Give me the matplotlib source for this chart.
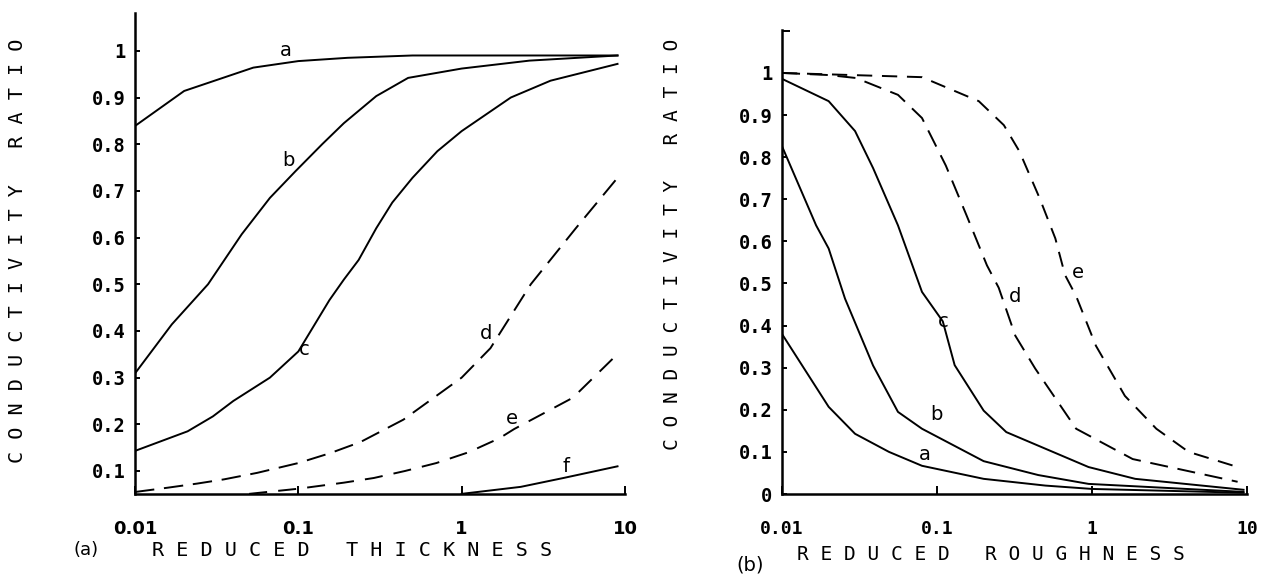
"""
Conductivity ratio of thin films versus reduced thickness (a)
and reduced roughness (b), drawn in an old plotter style.
"""

import matplotlib
matplotlib.use("Agg")
import matplotlib.pyplot as plt
from matplotlib.ticker import FixedLocator, NullLocator

# ---- panel (a): conductivity ratio vs reduced thickness ----
thk_a_x = [0.01, 0.02, 0.053, 0.1, 0.2, 0.5, 1, 3, 9]
thk_a_y = [0.839, 0.914, 0.964, 0.978, 0.985, 0.99, 0.99, 0.99, 0.99]

thk_b_x = [0.01, 0.0168, 0.028, 0.045, 0.067, 0.096, 0.14, 0.19, 0.3, 0.47, 1.0, 2.6, 9]
thk_b_y = [0.309, 0.414, 0.5, 0.607, 0.685, 0.742, 0.8, 0.845, 0.903, 0.942, 0.962, 0.979, 0.99]

thk_c_x = [0.01, 0.021, 0.03, 0.04, 0.067, 0.1, 0.155, 0.19, 0.234, 0.3, 0.376,
           0.5, 0.71, 1.0, 2.0, 3.5, 9]
thk_c_y = [0.143, 0.185, 0.217, 0.25, 0.30, 0.356, 0.466, 0.51, 0.552, 0.62, 0.675,
           0.728, 0.785, 0.828, 0.9, 0.936, 0.972]

thk_d_x = [0.01, 0.0157, 0.024, 0.035, 0.056, 0.1, 0.156, 0.24, 0.44, 1.0, 1.5, 2.65, 5, 9]
thk_d_y = [0.055, 0.064, 0.073, 0.082, 0.096, 0.117, 0.138, 0.162, 0.21, 0.30, 0.363, 0.5, 0.62, 0.728]

thk_e_x = [0.05, 0.1, 0.19, 0.29, 0.45, 0.7, 1.1, 1.7, 2.1, 4.8, 8.5]
thk_e_y = [0.051, 0.062, 0.075, 0.085, 0.1, 0.117, 0.14, 0.17, 0.19, 0.257, 0.342]

thk_f_x = [1.0, 2.3, 4.2, 9]
thk_f_y = [0.051, 0.066, 0.085, 0.11]

# ---- panel (b): conductivity ratio vs reduced roughness ----
rgh_a_x = [0.01, 0.02, 0.0296, 0.049, 0.08, 0.2, 0.5, 1.0, 9.5]
rgh_a_y = [0.38, 0.207, 0.143, 0.1, 0.067, 0.036, 0.02, 0.012, 0.003]

rgh_b_x = [0.01, 0.0166, 0.02, 0.0255, 0.0387, 0.056, 0.08, 0.2, 0.45, 0.95, 9.5]
rgh_b_y = [0.826, 0.638, 0.583, 0.464, 0.305, 0.195, 0.155, 0.078, 0.045, 0.024, 0.005]

rgh_c_x = [0.01, 0.02, 0.0296, 0.0387, 0.056, 0.08, 0.109, 0.13, 0.2, 0.28, 0.95, 1.9, 9.5]
rgh_c_y = [0.986, 0.933, 0.862, 0.774, 0.638, 0.48, 0.41, 0.306, 0.198, 0.147, 0.064, 0.036, 0.01]

rgh_d_x = [0.01, 0.02, 0.03, 0.056, 0.08, 0.114, 0.155, 0.21, 0.25, 0.32, 0.43, 0.79, 1.83, 8.7]
rgh_d_y = [1.0, 0.995, 0.988, 0.948, 0.893, 0.78, 0.662, 0.543, 0.49, 0.376, 0.298, 0.155, 0.083, 0.029]

rgh_e_x = [0.01, 0.08, 0.186, 0.27, 0.34, 0.46, 0.58, 0.67, 0.79, 1.06, 1.63, 2.6, 4.2, 8.2]
rgh_e_y = [1.0, 0.99, 0.933, 0.876, 0.814, 0.702, 0.607, 0.52, 0.47, 0.352, 0.233, 0.155, 0.1, 0.067]

x_ticks = [0.01, 0.1, 1, 10]
x_tick_labels = ["0.01", "0.1", "1", "10"]
thk_y_ticks = [0.1, 0.2, 0.3, 0.4, 0.5, 0.6, 0.7, 0.8, 0.9, 1.0]
thk_y_labels = ["0.1", "0.2", "0.3", "0.4", "0.5", "0.6", "0.7", "0.8", "0.9", "1"]
rgh_y_ticks = [0, 0.1, 0.2, 0.3, 0.4, 0.5, 0.6, 0.7, 0.8, 0.9, 1.0]
rgh_y_labels = ["0", "0.1", "0.2", "0.3", "0.4", "0.5", "0.6", "0.7", "0.8", "0.9", "1"]

plt.rcParams["lines.scale_dashes"] = False

W, H = 1269, 580
fig = plt.figure(figsize=(W / 100, H / 100), dpi=100)

MONO = "DejaVu Sans Mono"
LW = 1.4


def spaced(s):
    # plotter lettering is set wide, one blank between letters
    return " ".join(s)


def style_axes(ax, yticks, ylabels, ylim, xfont):
    ax.set_xscale("log")
    ax.set_xlim(0.01, 10)
    ax.set_ylim(*ylim)
    for side in ("top", "right"):
        ax.spines[side].set_visible(False)
    for side in ("left", "bottom"):
        ax.spines[side].set_linewidth(1.8)
    ax.xaxis.set_major_locator(FixedLocator(x_ticks))
    ax.xaxis.set_minor_locator(NullLocator())
    ax.set_xticklabels(x_tick_labels, fontfamily=xfont, fontweight="bold", fontsize=13)
    ax.set_yticks(yticks)
    ax.set_yticklabels(ylabels, fontfamily=MONO, fontweight="bold", fontsize=13.5)
    ax.tick_params(axis="x", direction="in", length=6, width=1.4, pad=19)
    ax.tick_params(axis="y", direction="in", length=3.5, width=1.4, pad=7)


# panel (a)
ax1 = fig.add_axes([135 / W, 86 / H, 490 / W, 481 / H])
ax1.plot(thk_a_x, thk_a_y, "k-", lw=LW)
ax1.plot(thk_b_x, thk_b_y, "k-", lw=LW)
ax1.plot(thk_c_x, thk_c_y, "k-", lw=LW)
ax1.plot(thk_d_x, thk_d_y, "k", lw=LW, dashes=(14, 7))
ax1.plot(thk_e_x, thk_e_y, "k", lw=LW, dashes=(13, 8))
ax1.plot(thk_f_x, thk_f_y, "k-", lw=LW)
style_axes(ax1, thk_y_ticks, thk_y_labels, (0.0507, 1.081), "DejaVu Sans")

for lab, x, y in [("a", 0.084, 1.0), ("b", 0.087, 0.765), ("c", 0.108, 0.36),
                  ("d", 1.42, 0.395), ("e", 2.04, 0.213), ("f", 4.37, 0.109)]:
    ax1.text(x, y, lab, fontsize=14, ha="center", va="center")

# panel (b)
ax2 = fig.add_axes([782 / W, 86 / H, 465 / W, 464 / H])
ax2.plot(rgh_a_x, rgh_a_y, "k-", lw=LW)
ax2.plot(rgh_b_x, rgh_b_y, "k-", lw=LW)
ax2.plot(rgh_c_x, rgh_c_y, "k-", lw=LW)
ax2.plot(rgh_d_x, rgh_d_y, "k", lw=LW, dashes=(13, 7))
ax2.plot(rgh_e_x, rgh_e_y, "k", lw=LW, dashes=(11, 7))
style_axes(ax2, rgh_y_ticks, rgh_y_labels, (0, 1.102), MONO)
ax2.set_yticks([1.1], minor=True)
ax2.tick_params(axis="y", which="minor", direction="in", length=6, width=1.4)

for lab, x, y in [("a", 0.084, 0.095), ("b", 0.099, 0.19), ("c", 0.11, 0.41),
                  ("d", 0.32, 0.47), ("e", 0.805, 0.526)]:
    ax2.text(x, y, lab, fontsize=14, ha="center", va="center")

# axis titles
fig.text(18 / W, 1 - 251 / H, spaced("CONDUCTIVITY RATIO"), rotation=90,
         fontfamily=MONO, fontsize=14.5, ha="center", va="center")
fig.text(672 / W, 1 - 244 / H, spaced("CONDUCTIVITY RATIO"), rotation=90,
         fontfamily=MONO, fontsize=14, ha="center", va="center")
fig.text(86 / W, 1 - 550 / H, "(a)", fontsize=13, ha="center", va="center")
fig.text(352 / W, 1 - 550 / H, spaced("REDUCED THICKNESS"),
         fontfamily=MONO, fontsize=14.5, ha="center", va="center")
fig.text(750 / W, 1 - 565 / H, "(b)", fontsize=14, ha="center", va="center")
fig.text(991 / W, 1 - 554 / H, spaced("REDUCED ROUGHNESS"),
         fontfamily=MONO, fontsize=14, ha="center", va="center")

fig.savefig("out.png", dpi=100)
